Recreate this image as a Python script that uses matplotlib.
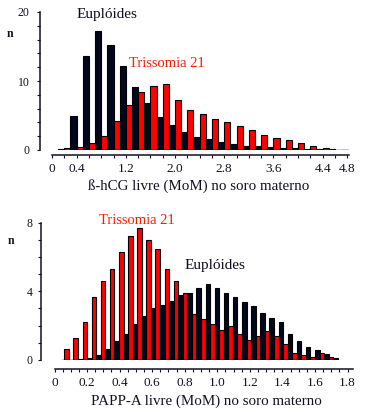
import matplotlib.pyplot as plt
import numpy as np

#===================================================================================================
#Data (n per bin)

#free beta-hCG, bins of 0.2 MoM (pair k centred on 0.2*k)
hcg_euploid = [0.15, 4.9, 13.6, 17.2, 15.2, 12.2, 9.1, 6.8, 4.8, 3.6, 2.6, 1.9,
               1.6, 1.15, 0.9, 0.6, 0.6, 0.45, 0.3, 0.3, 0.15, 0.15, 0.12, 0.05]
hcg_t21 = [0.3, 0.45, 1.0, 2.0, 4.2, 6.5, 8.4, 9.3, 9.6, 7.2, 5.8, 5.2,
           4.5, 4.05, 3.5, 2.9, 2.2, 1.75, 1.45, 1.0, 0.6, 0.3]
hcg_ticks = [0, 0.4, 1.2, 2.0, 2.8, 3.6, 4.4, 4.8]
hcg_ticklabels = ['0', '0.4', '1.2', '2.0', '2.8', '3.6', '4.4', '4.8']

#PAPP-A, narrower bins
papp_t21 = [0.65, 1.26, 2.2, 3.65, 4.6, 5.3, 6.3, 7.2, 7.7, 7.0, 6.45, 5.3, 4.6, 3.9, 2.7,
            2.4, 2.1, 1.77, 2.0, 1.53, 1.18, 1.42, 1.67, 1.42, 0.95, 0.43, 0.29, 0.19, 0.41, 0.19]
papp_euploid = [0.02, 0.05, 0.12, 0.3, 0.65, 1.1, 1.5, 2.1, 2.55, 3.0, 3.2, 3.45, 3.8, 3.9, 4.17,
                4.4, 4.17, 3.88, 3.69, 3.4, 3.17, 2.72, 2.47, 2.23, 1.53, 1.09, 0.78, 0.56, 0.33, 0.1]
papp_ticks = [0, 0.2, 0.4, 0.6, 0.8, 1.0, 1.2, 1.4, 1.6, 1.8]
papp_ticklabels = ['0', '0.2', '0.4', '0.6', '0.8', '1.0', '1.2', '1.4', '1.6', '1.8']

navy = '#03071c'
red = '#ff0000'
W, H = 365, 412

plt.rcParams['font.family'] = ['Liberation Serif', 'DejaVu Serif']

fig = plt.figure(figsize=(W / 100, H / 100), dpi=100)


def px_axes(left, top, right, bottom):
    #axes box given in pixels of the output image
    return fig.add_axes([left / W, 1 - bottom / H, (right - left) / W, (bottom - top) / H])


def style_axes(ax, left_out, bottom_out, ymax, ylab_pad):
    for s in ['top', 'right']:
        ax.spines[s].set_visible(False)
    ax.spines['left'].set_position(('outward', left_out))
    ax.spines['bottom'].set_position(('outward', bottom_out))
    ax.spines['left'].set_bounds(0, ymax)
    for s in ['left', 'bottom']:
        ax.spines[s].set_linewidth(1.1)
        ax.spines[s].set_color('#111122')
    ax.tick_params(axis='x', which='both', length=2.5, width=0.8, pad=3.5, labelsize=9.5, colors='#111122')
    ax.tick_params(axis='y', which='both', length=2.5, width=0.8, pad=ylab_pad, labelsize=8.5, colors='#111122')


#===================================================================================================
#Top chart: beta-hCG

ax1 = px_axes(52, 12, 349, 150)
step = 0.2
centres = step * np.arange(1, len(hcg_euploid) + 1)
ax1.bar(centres - step / 2, hcg_euploid, width=step / 2, align='edge',
        color=navy, edgecolor='black', linewidth=0.8)
ax1.bar(centres[:len(hcg_t21)], hcg_t21, width=step / 2, align='edge',
        color=red, edgecolor='black', linewidth=0.8)
ax1.plot([centres[0] - step / 2, 4.84], [0, 0], color='black', linewidth=1)
ax1.set_xlim(0, 297 / 61.5)
ax1.set_ylim(0, 20)
style_axes(ax1, 12 * 0.72, 5 * 0.72, 20, 5)
ax1.set_xticks(hcg_ticks)
ax1.set_xticklabels(hcg_ticklabels)
ax1.set_xticks(np.arange(0, 4.81, 0.2), minor=True)
ax1.set_yticks([0, 10, 20])
ax1.set_yticks(np.arange(0, 21, 2), minor=True)
ax1.set_xlabel('ß-hCG livre (MoM) no soro materno', fontsize=10.8, color='#111122')
ax1.xaxis.set_label_coords(0.495, -0.21)
ax1.set_ylabel('n', rotation=0, fontsize=8.5, fontweight='bold', color='#111122')
ax1.yaxis.set_label_coords(-0.141, 0.80)
ax1.text(0.89, 19.6, 'Euplóides', fontsize=11, color='#0b0b1e', ha='center', va='center')
ax1.text(1.87, 12.6, 'Trissomia 21', fontsize=10.5, color='#ff1a00', ha='center', va='center')

#===================================================================================================
#Bottom chart: PAPP-A

ax2 = px_axes(54.5, 222.5, 353, 360)
pstep = 0.056
starts = 0.06 + pstep * np.arange(len(papp_t21))
ax2.bar(starts, papp_t21, width=pstep / 2, align='edge',
        color=red, edgecolor='black', linewidth=0.8)
ax2.bar(starts + pstep / 2, papp_euploid, width=pstep / 2, align='edge',
        color=navy, edgecolor='black', linewidth=0.8)
ax2.plot([starts[0] - pstep / 4, starts[-1] + pstep], [0, 0], color='black', linewidth=1)
ax2.set_xlim(0, 298.5 / 162.8)
ax2.set_ylim(0, 8)
style_axes(ax2, 13.5 * 0.72, 9 * 0.72, 8, 3.5)
ax2.set_xticks(papp_ticks)
ax2.set_xticklabels(papp_ticklabels)
ax2.set_xticks(np.arange(0, 1.81, 0.05), minor=True)
ax2.set_yticks([0, 4, 8])
ax2.set_yticks(np.arange(0, 9, 1), minor=True)
ax2.set_xlabel('PAPP-A livre (MoM) no soro materno', fontsize=10.8, color='#111122')
ax2.xaxis.set_label_coords(0.51, -0.25)
ax2.set_ylabel('n', rotation=0, fontsize=8.5, fontweight='bold', color='#111122')
ax2.yaxis.set_label_coords(-0.146, 0.82)
ax2.text(0.507, 8.14, 'Trissomia 21', fontsize=10.5, color='#ff1a00', ha='center', va='center')
ax2.text(0.986, 5.52, 'Euplóides', fontsize=11, color='#0b0b1e', ha='center', va='center')

plt.savefig('out.png', dpi=100)
